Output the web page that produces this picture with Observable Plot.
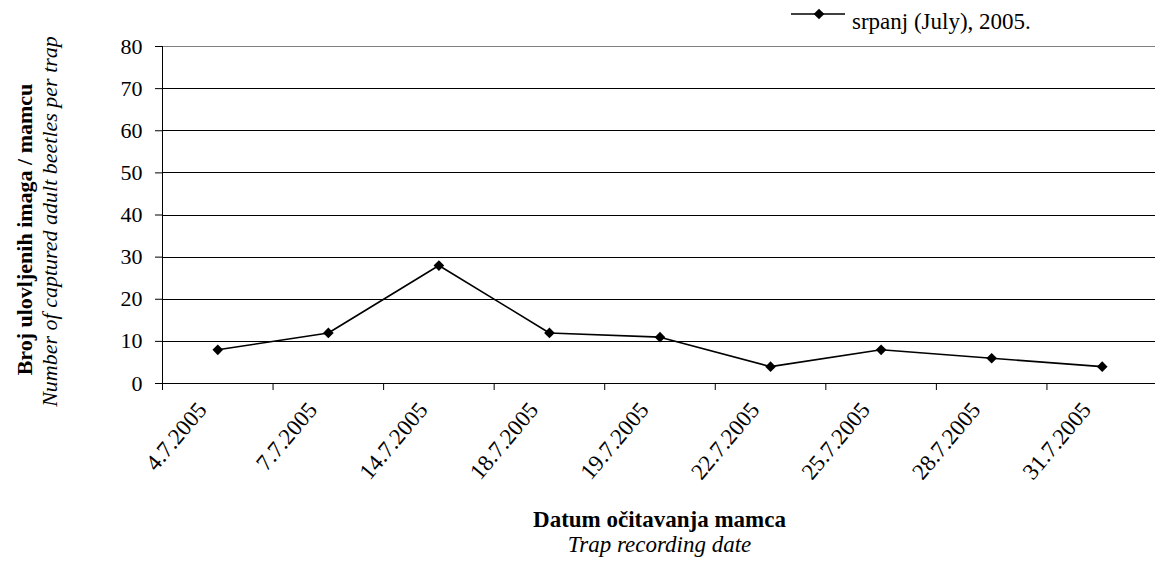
<!DOCTYPE html>
<html>
<head>
<meta charset="utf-8">
<script src="https://cdn.jsdelivr.net/npm/d3@7"></script>
<script src="https://cdn.jsdelivr.net/npm/@observablehq/plot@0.6"></script>
<style>
  html, body { margin: 0; padding: 0; background: #fff; }
  #chart { width: 1155px; height: 564px; overflow: hidden; }
</style>
</head>
<body>
<div id="chart"></div>
<script>
// ---- data ----
const dates = ["4.7.2005", "7.7.2005", "14.7.2005", "18.7.2005", "19.7.2005", "22.7.2005", "25.7.2005", "28.7.2005", "31.7.2005"];
const counts = [8, 12, 28, 12, 11, 4, 8, 6, 4];
const yTicks = [0, 10, 20, 30, 40, 50, 60, 70, 80];
const seriesName = "srpanj (July), 2005.";
const yTitle1 = "Broj ulovljenih imaga / mamcu";
const yTitle2 = "Number of captured adult beetles per trap";
const xTitle1 = "Datum očitavanja mamca";
const xTitle2 = "Trap recording date";

const data = dates.map((d, i) => ({date: d, idx: i + 0.5, value: counts[i]}));
const boundaries = d3.range(dates.length + 1);

const W = 1155, H = 564;
const font = "'Liberation Serif', 'Times New Roman', serif";
const R = 4.8;

const plot = Plot.plot({
  width: W,
  height: H,
  marginTop: 46,
  marginBottom: 181,
  marginLeft: 162,
  marginRight: 0,
  style: {fontFamily: font, fontSize: "22px", color: "#000", background: "#fff", overflow: "hidden"},
  x: {domain: [0, dates.length], range: [162, 1157], axis: null},
  y: {domain: [0, 80], axis: null},
  marks: [
    Plot.ruleY(yTicks.filter(d => d < 80), {stroke: "#000", strokeWidth: 1, shapeRendering: "crispEdges"}),
    Plot.ruleY([80], {stroke: "#808080", strokeWidth: 1, shapeRendering: "crispEdges"}),
    Plot.ruleX([0], {y1: 0, y2: 80, stroke: "#000", strokeWidth: 1, shapeRendering: "crispEdges"}),
    Plot.axisY({ticks: yTicks, tickSize: 7, tickPadding: 13, fontSize: 22, fontFamily: font, stroke: "#000", label: null, tickFormat: d => d}),
    Plot.axisX({ticks: boundaries, tickSize: 7, tickFormat: () => "", stroke: "#000", label: null}),
    Plot.text(data, {x: "idx", y: 0, text: "date", rotate: -50, textAnchor: "end", lineAnchor: "bottom",
      dx: -10, dy: 27, fontSize: 23, fontFamily: font, fill: "#000"}),
    Plot.line(data, {x: "idx", y: "value", stroke: "#000", strokeWidth: 1.6}),
    Plot.dot(data, {x: "idx", y: "value", symbol: "diamond2", r: R, fill: "#000", stroke: "none"})
  ]
});

document.getElementById("chart").appendChild(plot);

const svg = d3.select(plot);
const xs = plot.scale("x"), ys = plot.scale("y");
const yMid = (ys.apply(0) + ys.apply(80)) / 2;
const xMid = (xs.apply(0) + xs.apply(dates.length)) / 2;

function txt(sel, size) {
  return sel.attr("font-family", font).attr("font-size", size).attr("fill", "#000");
}

txt(svg.append("text"), 22)
  .attr("transform", `translate(32,${yMid + 15}) rotate(-90)`)
  .attr("text-anchor", "middle")
  .attr("font-weight", "bold")
  .text(yTitle1);
txt(svg.append("text"), 22)
  .attr("transform", `translate(57,${yMid + 7}) rotate(-90)`)
  .attr("text-anchor", "middle")
  .attr("font-style", "italic")
  .text(yTitle2);

txt(svg.append("text"), 23)
  .attr("x", xMid).attr("y", 527)
  .attr("text-anchor", "middle")
  .attr("font-weight", "bold")
  .text(xTitle1);
txt(svg.append("text"), 23)
  .attr("x", xMid).attr("y", 552)
  .attr("text-anchor", "middle")
  .attr("font-style", "italic")
  .text(xTitle2);

const lg = svg.append("g").attr("transform", "translate(791,14)");
lg.append("line").attr("x1", 0).attr("x2", 54).attr("y1", 0).attr("y2", 0).attr("stroke", "#000").attr("stroke-width", 1.6);
lg.append("path").attr("d", d3.symbol(d3.symbolDiamond2, Math.PI * R * R)()).attr("transform", "translate(28,0)").attr("fill", "#000");
txt(lg.append("text"), 23).attr("x", 61).attr("y", 15).attr("text-anchor", "start")
  .text(seriesName);
</script>
</body>
</html>
